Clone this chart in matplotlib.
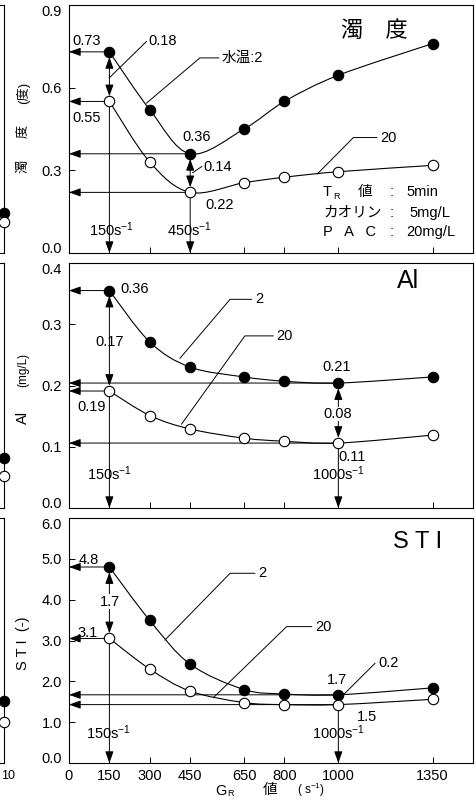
import numpy as np
import matplotlib
matplotlib.use("Agg")
import matplotlib.pyplot as plt
from matplotlib.path import Path
from matplotlib.patches import PathPatch

plt.rcParams["font.family"] = ["Liberation Sans", "Noto Sans CJK JP", "DejaVu Sans"]
plt.rcParams["mathtext.fontset"] = "custom"
plt.rcParams["mathtext.rm"] = "Liberation Sans"
plt.rcParams["mathtext.it"] = "Liberation Sans"
plt.rcParams["axes.linewidth"] = 0.8

# G_R values (s-1)
gr = [150, 300, 450, 650, 800, 1000, 1350]
x_ticks = [0, 150, 300, 450, 650, 800, 1000, 1350]

# water temperature 2 (filled) / 20 (open)
turb_2 = [0.73, 0.52, 0.36, 0.45, 0.55, 0.645, 0.76]
turb_20 = [0.55, 0.33, 0.22, 0.255, 0.275, 0.295, 0.318]
al_2 = [0.355, 0.271, 0.230, 0.214, 0.207, 0.204, 0.214]
al_20 = [0.191, 0.151, 0.129, 0.114, 0.109, 0.106, 0.119]
sti_2 = [4.8, 3.49, 2.42, 1.80, 1.69, 1.67, 1.84]
sti_20 = [3.05, 2.30, 1.76, 1.48, 1.43, 1.43, 1.56]

# neighbouring figure, cut off at the left edge
ghost_2 = [0.145, 0.082, 1.52]
ghost_20 = [0.113, 0.052, 1.0]

MS = 7.5
LW = 0.8


def px(x, y):
    return x / 477, 1 - y / 800


def smooth(ax, xs, ys):
    pts = np.column_stack([xs, ys]).astype(float)
    n = len(pts)
    verts = [pts[0]]
    codes = [Path.MOVETO]
    for i in range(n - 1):
        p0 = pts[max(i - 1, 0)]
        p1, p2 = pts[i], pts[i + 1]
        p3 = pts[min(i + 2, n - 1)]
        verts += [p1 + (p2 - p0) / 6, p2 - (p3 - p1) / 6, p2]
        codes += [Path.CURVE4] * 3
    ax.add_patch(PathPatch(Path(verts, codes), fill=False, lw=LW, ec="black", zorder=2))


def series(ax, ys2, ys20):
    smooth(ax, gr, ys2)
    smooth(ax, gr, ys20)
    ax.plot(gr, ys2, "o", ms=MS, mfc="black", mec="black", mew=LW, zorder=5)
    ax.plot(gr, ys20, "o", ms=MS, mfc="white", mec="black", mew=LW, zorder=5)


def arrow(ax, start, end, style="-|>", sa=0, sb=0):
    ax.annotate("", xy=end, xytext=start,
                arrowprops=dict(arrowstyle=style + ",head_length=0.7,head_width=0.25",
                                lw=0.7, color="black", shrinkA=sa, shrinkB=sb,
                                mutation_scale=10), zorder=3)


def guides(ax, i, ys_top, ys_bot):
    x = gr[i]
    arrow(ax, (x, ys_top[i]), (0, ys_top[i]))
    arrow(ax, (x, ys_bot[i]), (0, ys_bot[i]))
    arrow(ax, (x, ys_top[i]), (x, ys_bot[i]), style="<|-|>", sa=MS / 2, sb=MS / 2)
    arrow(ax, (x, ys_bot[i]), (x, 0), sa=MS / 2)


def leader(ax, pts, text):
    xs, ys = zip(*pts)
    ax.plot(xs, ys, color="black", lw=0.7, zorder=3)
    ax.text(pts[-1][0] + 12, pts[-1][1], text, ha="left", va="center", fontsize=10.5)


def setup(ax, ylim, yticks, fmt):
    ax.set_xlim(0, 1500)
    ax.set_ylim(*ylim)
    ax.set_xticks(x_ticks)
    ax.set_yticks(yticks)
    ax.set_yticklabels([fmt.format(v) for v in yticks])
    ax.tick_params(direction="in", length=4, width=0.7, labelsize=10.5, pad=5)
    ax.tick_params(axis="x", pad=4)
    labels = ax.get_yticklabels()
    labels[0].set_va("baseline")
    labels[-1].set_va("top")


fig = plt.figure(figsize=(4.77, 8.0), dpi=100)
left, width = 69 / 477, 404 / 477
ax1 = fig.add_axes([left, 1 - 253 / 800, width, 248 / 800])
ax2 = fig.add_axes([left, 1 - 508 / 800, width, 245 / 800])
ax3 = fig.add_axes([left, 1 - 763 / 800, width, 245 / 800])

# ---- turbidity ----
setup(ax1, (0, 0.9), [0.0, 0.3, 0.6, 0.9], "{:.1f}")
ax1.set_xticklabels([])
series(ax1, turb_2, turb_20)
guides(ax1, 0, turb_2, turb_20)
guides(ax1, 2, turb_2, turb_20)
ax1.text(67, 0.771, "0.73", ha="center", va="center", fontsize=10.5)
ax1.text(67, 0.491, "0.55", ha="center", va="center", fontsize=10.5)
ax1.text(474, 0.422, "0.36", ha="center", va="center", fontsize=10.5)
ax1.text(561, 0.175, "0.22", ha="center", va="center", fontsize=10.5)
ax1.text(158, 0.084, "150s$^{-1}$", ha="center", va="center", fontsize=10.5)
ax1.text(449, 0.084, "450s$^{-1}$", ha="center", va="center", fontsize=10.5)
ax1.plot([150, 288], [0.636, 0.768], color="black", lw=0.7, zorder=3)
ax1.text(293, 0.768, "0.18", ha="left", va="center", fontsize=10.5)
ax1.plot([459, 493], [0.291, 0.314], color="black", lw=0.7, zorder=3)
ax1.text(500, 0.312, "0.14", ha="left", va="center", fontsize=10.5)
leader(ax1, [(288, 0.544), (486, 0.708), (556, 0.708)], "水温:2")
leader(ax1, [(922, 0.287), (1056, 0.419), (1143, 0.419)], "20")
ax1.text(1133, 0.805, "濁　度", ha="center", va="center", fontsize=16)

info = [(191.7, "値", "5min", 406.7), (212.7, "カオリン", "5mg/L", 409.3),
        (231.7, "P   A   C", "20mg/L", 406)]
for yy, lab, val, xv in info:
    if lab == "値":
        fig.text(*px(323, yy), "T", ha="left", va="center", fontsize=10.5)
        fig.text(*px(333, yy + 5), "R", ha="left", va="center", fontsize=6.5)
        fig.text(*px(365, yy), lab, ha="center", va="center", fontsize=10.5)
    else:
        fig.text(*px(323, yy), lab, ha="left", va="center", fontsize=10.5)
    fig.text(*px(391.7, yy), ":", ha="center", va="center", fontsize=10.5)
    fig.text(*px(xv, yy), val, ha="left", va="center", fontsize=10.5)

# ---- Al ----
setup(ax2, (0, 0.4), [0.0, 0.1, 0.2, 0.3, 0.4], "{:.1f}")
ax2.set_xticklabels([])
series(ax2, al_2, al_20)
guides(ax2, 0, al_2, al_20)
guides(ax2, 5, al_2, al_20)
ax2.text(245, 0.358, "0.36", ha="center", va="center", fontsize=10.5)
ax2.text(152, 0.2715, "0.17", ha="center", va="center", fontsize=10.5)
ax2.text(84, 0.165, "0.19", ha="center", va="center", fontsize=10.5)
ax2.text(994, 0.2297, "0.21", ha="center", va="center", fontsize=10.5)
ax2.text(999, 0.1535, "0.08", ha="center", va="center", fontsize=10.5, zorder=6,
         bbox=dict(fc="white", ec="none", pad=0.3))
ax2.text(1050, 0.0828, "0.11", ha="center", va="center", fontsize=10.5)
ax2.text(152, 0.0567, "150s$^{-1}$", ha="center", va="center", fontsize=10.5)
ax2.text(999, 0.0567, "1000s$^{-1}$", ha="center", va="center", fontsize=10.5)
ax2.text(1259, 0.371, "Al", ha="center", va="center", fontsize=18)
leader(ax2, [(412, 0.2444), (598, 0.3407), (678, 0.3407)], "2")
leader(ax2, [(418, 0.137), (653, 0.281), (758, 0.281)], "20")

# ---- STI ----
setup(ax3, (0, 6.0), [0.0, 1.0, 2.0, 3.0, 4.0, 5.0, 6.0], "{:.1f}")
series(ax3, sti_2, sti_20)
guides(ax3, 0, sti_2, sti_20)
arrow(ax3, (gr[5], sti_2[5]), (0, sti_2[5]))
arrow(ax3, (gr[5], sti_20[5]), (0, sti_20[5]))
arrow(ax3, (gr[5], sti_20[5]), (gr[5], 0), sa=MS / 2)
ax3.text(72, 4.97, "4.8", ha="center", va="center", fontsize=10.5)
ax3.text(70, 3.19, "3.1", ha="center", va="center", fontsize=10.5)
ax3.text(152, 3.95, "1.7", ha="center", va="center", fontsize=10.5, zorder=6,
         bbox=dict(fc="white", ec="none", pad=0.3))
ax3.text(994, 2.03, "1.7", ha="center", va="center", fontsize=10.5)
ax3.text(1105, 1.134, "1.5", ha="center", va="center", fontsize=10.5)
ax3.text(145, 0.735, "150s$^{-1}$", ha="center", va="center", fontsize=10.5)
ax3.text(999, 0.735, "1000s$^{-1}$", ha="center", va="center", fontsize=10.5)
ax3.text(1296, 5.42, "S T I", ha="center", va="center", fontsize=17)
leader(ax3, [(356, 3.01), (598, 4.646), (690, 4.646)], "2")
leader(ax3, [(536, 1.60), (808, 3.34), (901, 3.34)], "20")
ax3.plot([1018, 1136], [1.665, 2.44], color="black", lw=0.7, zorder=3)
ax3.text(1147, 2.44, "0.2", ha="left", va="center", fontsize=10.5)

# axis titles
fig.text(*px(23.3, 166.7), "濁", rotation=90, ha="center", va="center", fontsize=9.5)
fig.text(*px(23.3, 131.7), "度", rotation=90, ha="center", va="center", fontsize=9.5)
fig.text(*px(23.3, 93.3), "(度)", rotation=90, ha="center", va="center", fontsize=9.5)
fig.text(*px(23, 417), "Al", rotation=90, ha="center", va="center", fontsize=10.5)
fig.text(*px(23, 370), "(mg/L)", rotation=90, ha="center", va="center", fontsize=8.5)
fig.text(*px(23, 643), "S T I  (-)", rotation=90, ha="center", va="center", fontsize=10.5)
fig.text(*px(220.7, 791), "G", ha="center", va="center", fontsize=10.5)
fig.text(*px(231, 794), "R", ha="center", va="center", fontsize=6.5)
fig.text(*px(270, 790), "値", ha="center", va="center", fontsize=10.5)
fig.text(*px(311, 790), "( s$^{-1}$)", ha="center", va="center", fontsize=8.5)
fig.text(*px(1, 776), "10", ha="left", va="center", fontsize=9)

# edge of the neighbouring chart
tops = [5, 263, 518]
bots = [253, 508, 763]
limits = [ax1.get_ylim(), ax2.get_ylim(), ax3.get_ylim()]
for k in range(3):
    g = fig.add_axes([-0.3, 1 - bots[k] / 800, 0.3 + 3.5 / 477, (bots[k] - tops[k]) / 800])
    g.set_xlim(0, 1)
    g.set_ylim(*limits[k])
    g.plot([1], [ghost_2[k]], "o", ms=MS, mfc="black", mec="black", mew=LW, clip_on=False, zorder=5)
    g.plot([1], [ghost_20[k]], "o", ms=MS, mfc="white", mec="black", mew=LW, clip_on=False, zorder=5)
    g.set_xticks([])
    g.set_yticks([])

fig.savefig("out.png", dpi=100)
